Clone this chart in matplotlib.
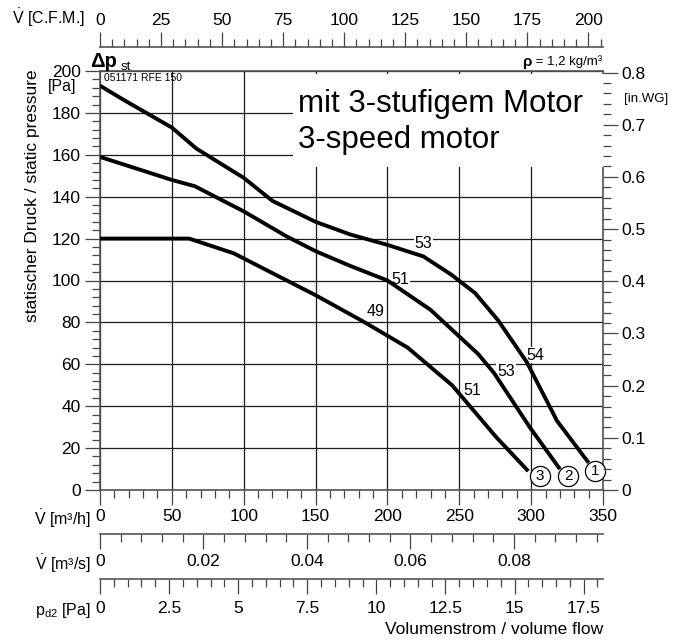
import matplotlib
matplotlib.use('Agg')
import matplotlib.pyplot as plt
from matplotlib.ticker import MultipleLocator, FixedLocator, FixedFormatter
from matplotlib.patches import Rectangle

plt.rcParams['font.family'] = ['Liberation Sans', 'DejaVu Sans']
plt.rcParams['mathtext.fontset'] = 'custom'
plt.rcParams['mathtext.rm'] = 'Liberation Sans'
plt.rcParams['mathtext.it'] = 'Liberation Sans:italic'
plt.rcParams['mathtext.bf'] = 'Liberation Sans:bold'

# ---------------- data ----------------
flow_1 = [0, 17, 50, 67, 100, 120, 150, 174, 200, 225, 244, 261, 277, 297, 318, 340]
pres_1 = [193, 186, 173, 163, 149, 138, 128, 122, 117, 111.5, 103, 94, 81, 61, 33, 13]

flow_2 = [0, 50, 66, 100, 130, 150, 174, 200, 230, 263, 274, 299, 320]
pres_2 = [159, 148, 145, 133, 121, 114, 107, 100, 86, 65, 56, 30, 10]

flow_3 = [0, 62, 93, 130, 150, 183, 214, 245, 276, 298]
pres_3 = [120, 120, 113, 100, 93, 80.5, 68, 50, 25, 9]

level_text = ['53', '51', '49', '54', '53', '51']
level_x = [225, 209, 192, 302.7, 282.5, 259.3]
level_y = [117.5, 100.5, 85.4, 64.4, 56.5, 47.7]

speed_ids = ['1', '2', '3']
speed_x = [344.5, 325.7, 306.2]
speed_y = [9.1, 6.7, 6.7]

m3h_ticks = [0, 50, 100, 150, 200, 250, 300, 350]
pa_ticks = [0, 20, 40, 60, 80, 100, 120, 140, 160, 180, 200]
inwg_ticks = [0, 0.1, 0.2, 0.3, 0.4, 0.5, 0.6, 0.7, 0.8]
inwg_labels = ['0', '0.1', '0.2', '0.3', '0.4', '0.5', '0.6', '0.7', '0.8']
cfm_ticks = [0, 25, 50, 75, 100, 125, 150, 175, 200]
m3s_ticks = [0, 0.02, 0.04, 0.06, 0.08]
m3s_labels = ['0', '0.02', '0.04', '0.06', '0.08']
pd2_ticks = [0, 2.5, 5, 7.5, 10, 12.5, 15, 17.5]
pd2_labels = ['0', '2.5', '5', '7.5', '10', '12.5', '15', '17.5']

CFM_PER_M3H = 1 / 1.69901
PA_PER_INWG = 249.089
PD2_PER_M3H = 0.052

# ---------------- layout ----------------
W, H = 693, 642
L, R, T, B = 100, 603, 71, 490
fig = plt.figure(figsize=(W / 100, H / 100), dpi=100)
ax = fig.add_axes([L / W, 1 - B / H, (R - L) / W, (B - T) / H])
ax.set_xlim(0, 350)
ax.set_ylim(0, 200)
ax.set_axisbelow(True)

def fx(x):
    return x / W

def fy(y):
    return 1 - y / H

spine_c = '#555555'
tick_c = '#444444'
TL = 12.5
MAJ, MIN = 10.5, 5.5

for s in ax.spines.values():
    s.set_color(spine_c)
    s.set_linewidth(1.2)

ax.xaxis.set_major_locator(FixedLocator(m3h_ticks))
ax.xaxis.set_minor_locator(MultipleLocator(10))
ax.yaxis.set_major_locator(FixedLocator(pa_ticks))
ax.yaxis.set_minor_locator(MultipleLocator(4))
ax.tick_params(which='both', direction='out', color=tick_c, width=0.9, labelsize=TL)
ax.tick_params(which='major', length=MAJ)
ax.tick_params(which='minor', length=MIN)
ax.tick_params(axis='x', which='major', pad=3.5)
ax.tick_params(axis='y', which='major', pad=3.5)
ax.grid(True, which='major', color='#1a1a1a', linewidth=0.9)

# right axis in inches of water
ax2 = ax.twinx()
ax2.set_ylim(0, 200 / PA_PER_INWG)
ax2.yaxis.set_major_locator(FixedLocator(inwg_ticks))
ax2.yaxis.set_major_formatter(FixedFormatter(inwg_labels))
ax2.yaxis.set_minor_locator(MultipleLocator(0.02))
ax2.tick_params(which='both', direction='out', color=tick_c, width=0.9, labelsize=TL)
ax2.tick_params(which='major', length=MAJ, pad=3)
ax2.tick_params(which='minor', length=MIN)
for s in ax2.spines.values():
    s.set_visible(False)

# top CFM axis
top = ax.secondary_xaxis(1 + 24 / 419, functions=(lambda x: x * CFM_PER_M3H, lambda x: x / CFM_PER_M3H))
top.xaxis.set_major_locator(FixedLocator(cfm_ticks))
top.xaxis.set_minor_locator(MultipleLocator(5))
top.tick_params(which='both', direction='out', color=tick_c, width=0.9, labelsize=TL)
top.tick_params(which='major', length=MAJ, pad=3)
top.tick_params(which='minor', length=MIN)
top.spines['top'].set_color(spine_c)
top.spines['top'].set_linewidth(1.2)

# m3/s axis
m3s = ax.secondary_xaxis(-(534.3 - 490) / 419, functions=(lambda x: x / 3600, lambda x: x * 3600))
m3s.xaxis.set_major_locator(FixedLocator(m3s_ticks))
m3s.xaxis.set_major_formatter(FixedFormatter(m3s_labels))
m3s.xaxis.set_minor_locator(MultipleLocator(0.004))
m3s.tick_params(which='both', direction='out', color=tick_c, width=0.9, labelsize=TL)
m3s.tick_params(which='major', length=MAJ, pad=4)
m3s.tick_params(which='minor', length=MIN)
m3s.spines['bottom'].set_color(spine_c)
m3s.spines['bottom'].set_linewidth(1.2)

# p_d2 axis
pd2 = ax.secondary_xaxis(-(579 - 490) / 419, functions=(lambda x: x * PD2_PER_M3H, lambda x: x / PD2_PER_M3H))
pd2.xaxis.set_major_locator(FixedLocator(pd2_ticks))
pd2.xaxis.set_major_formatter(FixedFormatter(pd2_labels))
pd2.xaxis.set_minor_locator(MultipleLocator(0.5))
pd2.tick_params(which='both', direction='out', color=tick_c, width=0.9, labelsize=TL)
pd2.tick_params(which='major', length=MAJ, pad=5)
pd2.tick_params(which='minor', length=MIN)
pd2.spines['bottom'].set_color(spine_c)
pd2.spines['bottom'].set_linewidth(1.2)

# white box behind the title text
ax.add_patch(Rectangle((134.3, 154.2), 216.5, 44.6, facecolor='white', edgecolor='none',
                       zorder=2.6, clip_on=False))
ax.text(137.5, 180.6, 'mit 3-stufigem Motor', fontsize=22.5, ha='left', va='baseline', zorder=5)
ax.text(137.5, 163.4, '3-speed motor', fontsize=22.5, ha='left', va='baseline', zorder=5)

# curves
for fl, pr in [(flow_1, pres_1), (flow_2, pres_2), (flow_3, pres_3)]:
    ax.plot(fl, pr, color='black', lw=2.8, zorder=3, solid_capstyle='butt')

for t, x, y in zip(level_text, level_x, level_y):
    ax.text(x, y, t, fontsize=11.5, ha='center', va='center', zorder=2.9,
            bbox=dict(facecolor='white', edgecolor='none', pad=0.6))

ax.plot(speed_x, speed_y, 'o', ms=14.5, mfc='white', mec='black', mew=0.9, zorder=5, clip_on=False)
for t, x, y in zip(speed_ids, speed_x, speed_y):
    ax.text(x, y, t, fontsize=11, ha='center', va='center', zorder=6)

# figure texts
fig.text(fx(85), fy(18), r'$\dot{\mathrm{V}}$ [C.F.M.]', fontsize=11.5, ha='right', va='center')
fig.text(fx(91), fy(519), r'$\dot{\mathrm{V}}$ [m³/h]', fontsize=11.5, ha='right', va='center')
fig.text(fx(91), fy(564), r'$\dot{\mathrm{V}}$ [m³/s]', fontsize=11.5, ha='right', va='center')
fig.text(fx(91), fy(610), r'$\mathrm{p_{d2}}$ [Pa]', fontsize=11.5, ha='right', va='center')
fig.text(fx(603), fy(630), 'Volumenstrom / volume flow', fontsize=12.5, ha='right', va='center')
fig.text(fx(33), fy(196), 'statischer Druck / static pressure', fontsize=12.5, rotation=90,
         ha='center', va='center')
fig.text(fx(62), fy(87), '[Pa]', fontsize=11.5, ha='center', va='center')
fig.text(fx(624), fy(99), '[in.WG]', fontsize=9.5, ha='left', va='center')
fig.text(fx(90), fy(67), 'Δp', fontsize=14.5, fontweight='bold', ha='left', va='baseline')
fig.text(fx(121), fy(70), 'st', fontsize=9.5, ha='left', va='baseline')
fig.text(fx(104), fy(78), '051171 RFE 150', fontsize=7.5, ha='left', va='center')

rho_rest = fig.text(fx(602), fy(62), ' = 1,2 kg/m³', fontsize=9.5, ha='right', va='center')
fig.canvas.draw()
bb = rho_rest.get_window_extent()
fig.text(bb.x0 / W, fy(62), 'ρ', fontsize=11, fontweight='bold', ha='right', va='center')

fig.savefig('out.png', dpi=100)
